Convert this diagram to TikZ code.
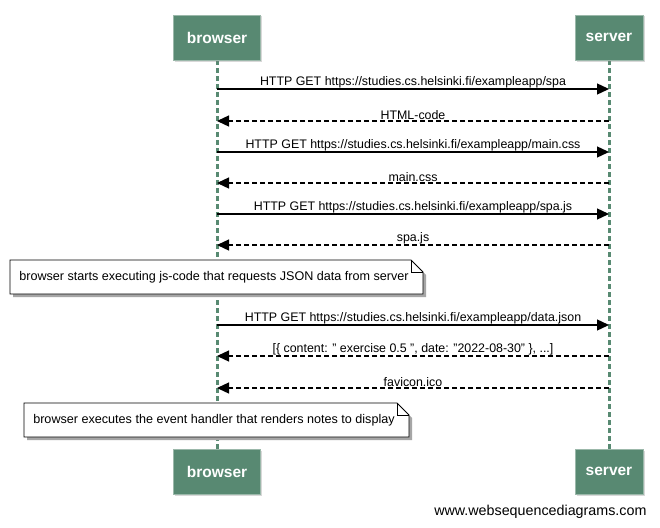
\documentclass[tikz,border=0pt]{standalone}
\usepackage{fontspec}
\setmainfont{Liberation Sans}
\usetikzlibrary{arrows.meta,shadows}
\definecolor{actorfill}{RGB}{88,137,114}
\definecolor{lifecol}{RGB}{88,138,114}
\begin{document}
\begin{tikzpicture}[x=1pt,y=-1pt,
  actor/.style={fill=actorfill, draw=actorfill!60!white, line width=0.8pt, minimum width=#1, minimum height=45, inner sep=0, text=white, font=\bfseries\fontsize{15.5}{18}\selectfont},
  life/.style={draw=lifecol, line width=3pt, dash pattern=on 5pt off 3pt},
  msg/.style={line width=1.3pt, -{Triangle[length=12pt,width=11pt]}},
  ret/.style={msg, dash pattern=on 5pt off 3pt},
  lbl/.style={font=\fontsize{12.4}{14}\selectfont, inner sep=0.5pt, anchor=south},
  note/.style={font=\fontsize{12.6}{15}\selectfont, inner sep=0},
]
\useasboundingbox (0,0) rectangle (660,527);
\fill[white] (0,0) rectangle (660,527);
% lifelines
\coordinate (bt) at (217,60); \coordinate (bb) at (217,450);
\coordinate (st) at (609,60); \coordinate (sb) at (609,450);
\draw[life] (bt) -- (bb);
\draw[life] (st) -- (sb);
% actors
\node[actor=87, drop shadow={shadow xshift=1.5pt, shadow yshift=-1.5pt, opacity=0.3}] (b1) at (217,37.5) {browser};
\node[actor=68, drop shadow={shadow xshift=1.5pt, shadow yshift=-1.5pt, opacity=0.3}] (s1) at (609,37.5) {server};
\node[actor=87, drop shadow={shadow xshift=1.5pt, shadow yshift=-1.5pt, opacity=0.3}] (b2) at (217,471.5) {browser};
\node[actor=68, drop shadow={shadow xshift=1.5pt, shadow yshift=-1.5pt, opacity=0.3}] (s2) at (609,471.5) {server};
% message coordinates
\foreach \n/\y in {1/89,2/121,3/152,4/183,5/214,6/245,7/325,8/356,9/388}{
  \coordinate (bm\n) at (217,\y); \coordinate (sm\n) at (609,\y);
}
\draw[msg] (bm1) -- node[lbl]{HTTP GET https://studies.cs.helsinki.fi/exampleapp/spa} (sm1);
\draw[ret] (sm2) -- node[lbl]{HTML-code} (bm2);
\draw[msg] (bm3) -- node[lbl]{HTTP GET https://studies.cs.helsinki.fi/exampleapp/main.css} (sm3);
\draw[ret] (sm4) -- node[lbl]{main.css} (bm4);
\draw[msg] (bm5) -- node[lbl]{HTTP GET https://studies.cs.helsinki.fi/exampleapp/spa.js} (sm5);
\draw[ret] (sm6) -- node[lbl]{spa.js} (bm6);
\draw[msg] (bm7) -- node[lbl]{HTTP GET https://studies.cs.helsinki.fi/exampleapp/data.json} (sm7);
\draw[ret] (sm8) -- node[lbl]{[\{ content: " exercise 0.5 ", date: "2022-08-30" \}, ...]} (bm8);
\draw[ret] (sm9) -- node[lbl]{favicon.ico} (bm9);
% notes
\fill[black!35] (13,263) -- (414,263) -- (426,275) -- (426,297) -- (13,297) -- cycle;
\draw[fill=white, line width=0.8pt] (10,260) -- (411,260) -- (423,272) -- (423,294) -- (10,294) -- cycle;
\draw[line width=0.8pt] (411,260) -- (411,272) -- (423,272);
\node[note] (n1) at (214,277.5) {browser starts executing js-code that requests JSON data from server};
\fill[black!35] (27,406) -- (400,406) -- (412,418) -- (412,440) -- (27,440) -- cycle;
\draw[fill=white, line width=0.8pt] (24,403) -- (397,403) -- (409,415) -- (409,437) -- (24,437) -- cycle;
\draw[line width=0.8pt] (397,403) -- (397,415) -- (409,415);
\node[note] (n2) at (214,420.5) {browser executes the event handler that renders notes to display};
\node[font=\fontsize{14.3}{16}\selectfont, anchor=east] (wm) at (650,512) {www.websequencediagrams.com};
\end{tikzpicture}
\end{document}
